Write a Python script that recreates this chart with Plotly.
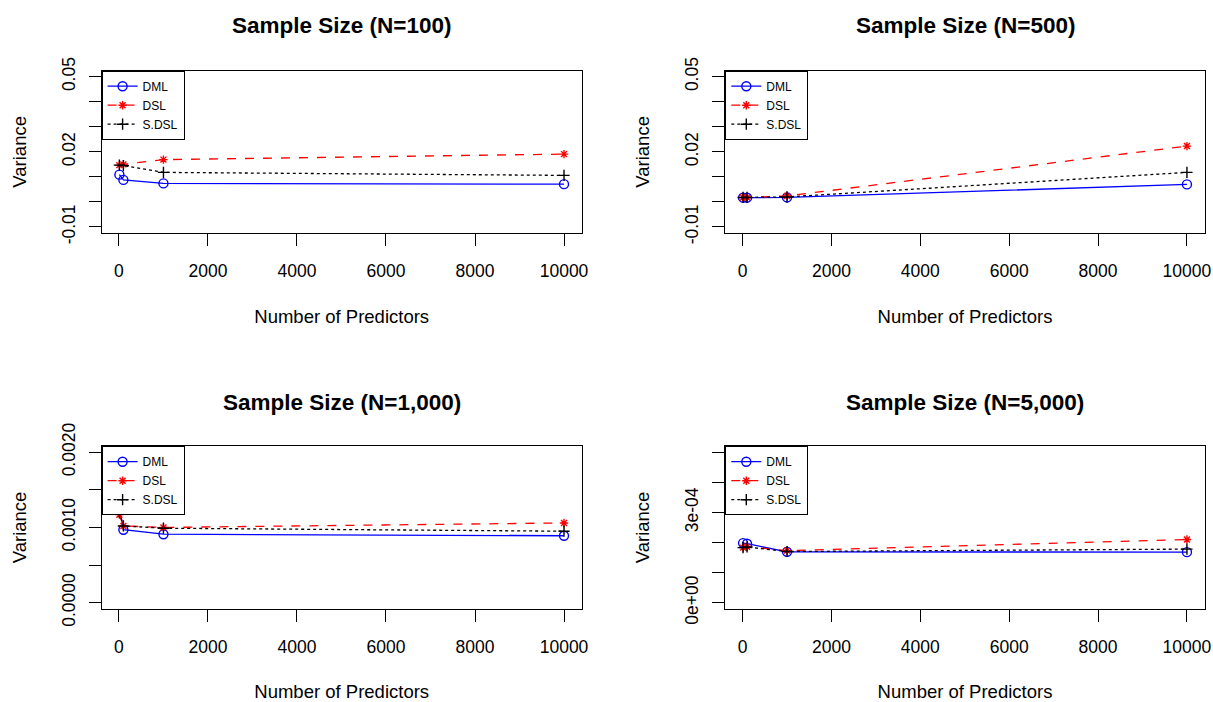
import plotly.graph_objects as go

# Number of predictors evaluated in each simulation
predictors = [10, 100, 1000, 10000]

# Estimated variance per method, one list per sample size
dml_n100 = [0.0109, 0.0088, 0.0074, 0.0071]
dsl_n100 = [0.0147, 0.0150, 0.0169, 0.0191]
sdsl_n100 = [0.0147, 0.0145, 0.0118, 0.0106]

dml_n500 = [0.0017, 0.0017, 0.0018, 0.0070]
dsl_n500 = [0.0018, 0.0018, 0.0024, 0.0223]
sdsl_n500 = [0.0018, 0.0018, 0.0020, 0.0118]

dml_n1000 = [0.00127, 0.00097, 0.00091, 0.00089]
dsl_n1000 = [0.00117, 0.00102, 0.00100, 0.00106]
sdsl_n1000 = [0.00120, 0.00102, 0.00099, 0.00095]

dml_n5000 = [0.000198, 0.000196, 0.000169, 0.000168]
dsl_n5000 = [0.000183, 0.000186, 0.000173, 0.000210]
sdsl_n5000 = [0.000183, 0.000185, 0.000170, 0.000178]

panel_titles = ["Sample Size (N=100)", "Sample Size (N=500)",
                "Sample Size (N=1,000)", "Sample Size (N=5,000)"]

# y limits and tick marks for each panel (labels thinned like base R)
ylims = [(-0.01, 0.05), (-0.01, 0.05), (0.0, 0.002), (0.0, 0.0005)]
ytick_vals = [
    [-0.01, 0.0, 0.01, 0.02, 0.03, 0.04, 0.05],
    [-0.01, 0.0, 0.01, 0.02, 0.03, 0.04, 0.05],
    [0.0, 0.0005, 0.001, 0.0015, 0.002],
    [0.0, 0.0001, 0.0002, 0.0003, 0.0004, 0.0005],
]
ytick_text = [
    ["-0.01", "", "", "0.02", "", "", "0.05"],
    ["-0.01", "", "", "0.02", "", "", "0.05"],
    ["0.0000", "", "0.0010", "", "0.0020"],
    ["0e+00", "", "", "3e-04", "", ""],
]
xtick_vals = [0, 2000, 4000, 6000, 8000, 10000]

series = [
    (dml_n100, dsl_n100, sdsl_n100),
    (dml_n500, dsl_n500, sdsl_n500),
    (dml_n1000, dsl_n1000, sdsl_n1000),
    (dml_n5000, dsl_n5000, sdsl_n5000),
]

W, H = 1213, 702
FONT = "Liberation Sans, Arial, sans-serif"

# plot-region boxes in pixels: (left, right, top, bottom)
boxes = [
    (101.6, 581.8, 70.7, 233.0),
    (725.3, 1204.7, 70.7, 233.0),
    (101.6, 581.8, 446.2, 608.7),
    (725.3, 1204.7, 446.2, 608.7),
]

styles = [
    ("DML", "#0000FF", "solid", "circle-open", 9),
    ("DSL", "#FF0000", "dash", "asterisk-open", 7),
    ("S.DSL", "#000000", "dot", "cross-thin-open", 8),
]

fig = go.Figure()

xmin, xmax = min(predictors), max(predictors)
xpad = 0.04 * (xmax - xmin)

layout = dict(
    width=W, height=H,
    margin=dict(l=0, r=0, t=0, b=0, autoexpand=False),
    paper_bgcolor="white", plot_bgcolor="white",
    font=dict(family=FONT, color="black", size=18),
    annotations=[],
)

for i, (vals, (left, right, top, bottom)) in enumerate(zip(series, boxes)):
    k = "" if i == 0 else str(i + 1)
    legend_name = "legend" + k
    for (name, color, dash, symbol, msize), y in zip(styles, vals):
        fig.add_trace(go.Scatter(
            x=predictors, y=y, name=name, mode="lines+markers",
            line=dict(color=color, dash=dash, width=1.3),
            marker=dict(symbol=symbol, size=msize, color=color,
                        line=dict(color=color, width=1.4)),
            xaxis="x" + k, yaxis="y" + k, legend=legend_name,
        ))

    ylo, yhi = ylims[i]
    ypad = 0.04 * (yhi - ylo)
    axis_common = dict(
        showgrid=False, zeroline=False, showline=True, mirror=True,
        linecolor="black", linewidth=1, ticks="outside", ticklen=12,
        tickcolor="black", tickwidth=1, automargin=False,
        tickfont=dict(family=FONT, size=17.5, color="black"),
    )
    layout["xaxis" + k] = dict(
        axis_common,
        domain=[left / W, right / W],
        range=[xmin - xpad, xmax + xpad],
        tickmode="array", tickvals=xtick_vals,
        ticktext=[str(v) for v in xtick_vals],
        ticklabelstandoff=10,
        anchor="y" + k,
        title=dict(text="Number of Predictors", standoff=30,
                   font=dict(family=FONT, size=18.5)),
    )
    layout["yaxis" + k] = dict(
        axis_common,
        domain=[1 - bottom / H, 1 - top / H],
        range=[ylo - ypad, yhi + ypad],
        tickmode="array", tickvals=ytick_vals[i], ticktext=ytick_text[i],
        tickangle=-90, ticklabelstandoff=7,
        anchor="x" + k,
        title=dict(text="Variance", standoff=27,
                   font=dict(family=FONT, size=18.5)),
    )
    layout[legend_name] = dict(
        x=left / W, y=1 - top / H, xanchor="left", yanchor="top",
        xref="paper", yref="paper",
        bgcolor="white", bordercolor="black", borderwidth=1,
        font=dict(family=FONT, size=12), tracegroupgap=0,
        itemwidth=30,
    )
    layout["annotations"].append(dict(
        text="<b>" + panel_titles[i] + "</b>", showarrow=False,
        x=(left + right) / 2 / W, y=1 - (26 if i < 2 else 402) / H,
        xref="paper", yref="paper", xanchor="center", yanchor="middle",
        font=dict(family=FONT, size=22.5, color="black"),
    ))

fig.update_layout(**layout)
fig.write_html("out.html")
